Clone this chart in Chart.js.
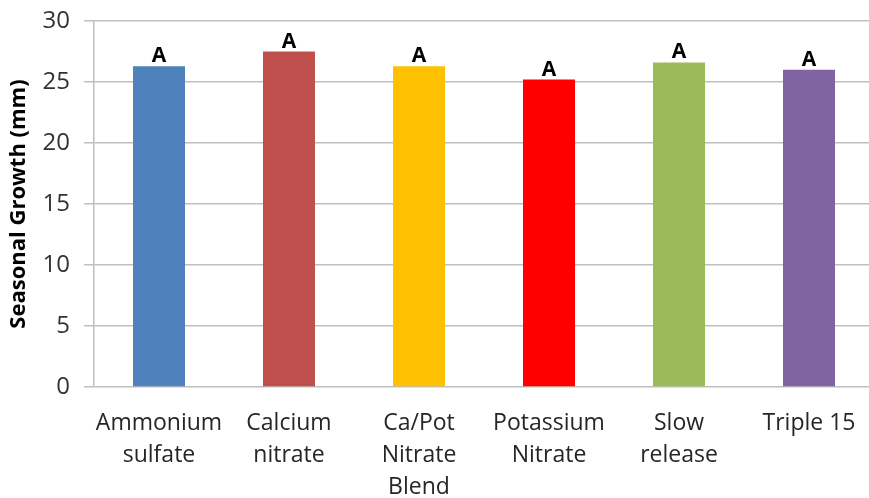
<!DOCTYPE html>
<html>
<head>
<meta charset="utf-8">
<script src="https://cdn.jsdelivr.net/npm/chart.js@4"></script>
<style>
html,body{margin:0;padding:0;background:#fff;overflow:hidden;}
#wrap{position:absolute;left:0;top:0;width:880px;height:498px;}
</style>
</head>
<body>
<div id="wrap"><canvas id="c"></canvas></div>
<script>
const categories = [["Ammonium","sulfate"],["Calcium","nitrate"],["Ca/Pot","Nitrate","Blend"],["Potassium","Nitrate"],["Slow","release"],["Triple 15"]];
const growth = [26.3, 27.5, 26.3, 25.2, 26.6, 26.0];
const letters = ["A","A","A","A","A","A"];
const barColors = ["#4f81bd","#c0504d","#ffc000","#ff0000","#9bbb59","#8064a2"];
const yTicks = [0,5,10,15,20,25,30];

const letterPlugin = {
  id: 'letters',
  afterDatasetsDraw(chart){
    const ctx = chart.ctx;
    const meta = chart.getDatasetMeta(0);
    ctx.save();
    ctx.font = 'bold 21px "Open Sans"';
    ctx.fillStyle = '#000';
    ctx.textAlign = 'center';
    ctx.textBaseline = 'alphabetic';
    meta.data.forEach((bar,i)=>{
      ctx.fillText(letters[i], bar.x, bar.y - 4);
    });
    ctx.restore();
  }
};

new Chart(document.getElementById('c'), {
  type: 'bar',
  data: {
    labels: categories,
    datasets: [{
      data: growth,
      backgroundColor: barColors,
      borderWidth: 0,
      barPercentage: 0.4,
      categoryPercentage: 1.0
    }]
  },
  options: {
    responsive: true,
    maintainAspectRatio: false,
    animation: false,
    layout: { padding: { top: 21, right: 6, left: 0, bottom: 0 } },
    plugins: { legend: { display: false }, tooltip: { enabled: false } },
    scales: {
      x: {
        grid: { display: false, drawTicks: false },
        border: { display: false },
        ticks: {
          color: '#262626',
          font: { family: 'Open Sans', size: 23, lineHeight: 1.4 },
          padding: 20,
          maxRotation: 0,
          autoSkip: false
        },
        afterFit(scale){ scale.height = 111; scale.paddingLeft = 0; scale.paddingRight = 0; }
      },
      y: {
        min: 0, max: 30,
        afterBuildTicks(scale){ scale.ticks = yTicks.map(v=>({value:v})); },
        grid: { color: '#bfbfbf', lineWidth: 1.5, tickLength: 10, drawTicks: true },
        border: { display: true, color: '#bfbfbf', width: 1.5 },
        ticks: {
          color: '#333',
          font: { family: 'Open Sans', size: 24 },
          padding: 14
        },
        title: {
          display: true,
          text: 'Seasonal Growth (mm)',
          color: '#000',
          font: { family: 'Open Sans', size: 22, weight: 'bold' },
          padding: { top: 6, bottom: 4 }
        },
        afterFit(scale){ scale.width = 94; scale.paddingTop = 0; scale.paddingBottom = 0; }
      }
    }
  },
  plugins: [letterPlugin]
});
</script>
</body>
</html>
